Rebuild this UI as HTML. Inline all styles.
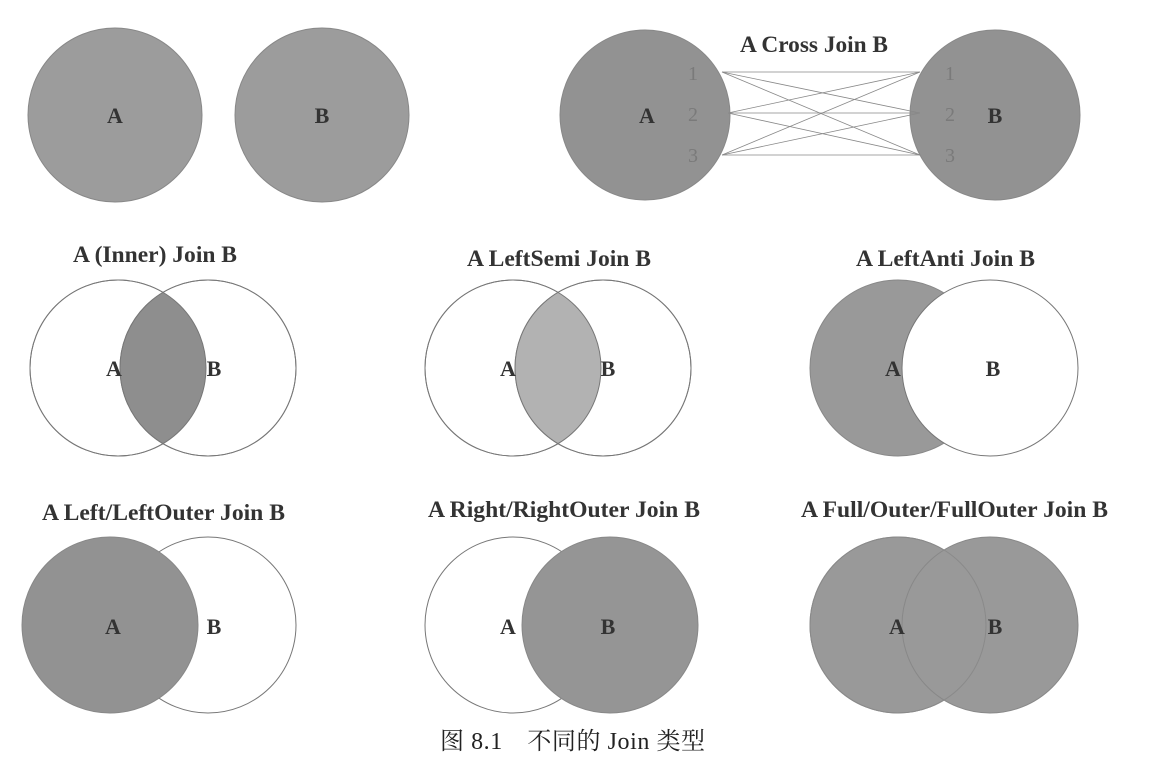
<!DOCTYPE html>
<html><head><meta charset="utf-8"><style>
body{margin:0;background:#fff;width:1155px;height:769px;overflow:hidden}
svg text{font-family:"Liberation Serif","Noto Serif CJK SC",serif}
</style></head><body>
<svg width="1155" height="769">
<g fill="#9c9c9c" stroke="#888" stroke-width="1">
<circle cx="115" cy="115" r="87"/>
<circle cx="322" cy="115" r="87"/>
<circle cx="645" cy="115" r="85" fill="#929292"/>
<circle cx="995" cy="115" r="85" fill="#929292"/>
</g>
<g stroke="#888" stroke-width="0.8" fill="none">
<line x1="722" y1="72" x2="920" y2="72"/><line x1="722" y1="72" x2="920" y2="113"/><line x1="722" y1="72" x2="920" y2="155"/>
<line x1="728" y1="113" x2="920" y2="72"/><line x1="728" y1="113" x2="920" y2="113"/><line x1="728" y1="113" x2="920" y2="155"/>
<line x1="722" y1="155" x2="920" y2="72"/><line x1="722" y1="155" x2="920" y2="113"/><line x1="722" y1="155" x2="920" y2="155"/>
</g>
<g font-size="22" font-weight="bold" fill="#333" text-anchor="middle">
<text x="115" y="123">A</text>
<text x="322" y="123">B</text>
<text x="647" y="123">A</text>
<text x="995" y="123">B</text>
</g>
<g font-size="20" fill="#7a7a7a" text-anchor="middle">
<text x="693" y="80">1</text><text x="693" y="121">2</text><text x="693" y="162">3</text>
<text x="950" y="80">1</text><text x="950" y="121">2</text><text x="950" y="162">3</text>
</g>
<g font-size="23" font-weight="bold" fill="#333" lengthAdjust="spacingAndGlyphs">
<text x="740" y="52" textLength="148" lengthAdjust="spacingAndGlyphs">A Cross Join B</text>
<text x="73" y="262" textLength="164" lengthAdjust="spacingAndGlyphs">A (Inner) Join B</text>
<text x="467" y="266" textLength="184" lengthAdjust="spacingAndGlyphs">A LeftSemi Join B</text>
<text x="856" y="266" textLength="179" lengthAdjust="spacingAndGlyphs">A LeftAnti Join B</text>
<text x="42" y="520" textLength="243" lengthAdjust="spacingAndGlyphs">A Left/LeftOuter Join B</text>
<text x="428" y="517" textLength="272" lengthAdjust="spacingAndGlyphs">A Right/RightOuter Join B</text>
<text x="801" y="517" textLength="307" lengthAdjust="spacingAndGlyphs">A Full/Outer/FullOuter Join B</text>
</g>
<defs>
<clipPath id="ca1"><circle cx="118" cy="368" r="88"/></clipPath>
<clipPath id="ca2"><circle cx="513" cy="368" r="88"/></clipPath>
</defs>
<circle cx="118" cy="368" r="88" fill="#fff" stroke="#777"/>
<circle cx="208" cy="368" r="88" fill="#fff" stroke="#777"/>
<circle cx="208" cy="368" r="88" fill="#8e8e8e" clip-path="url(#ca1)"/>
<circle cx="118" cy="368" r="88" fill="none" stroke="#777"/><circle cx="208" cy="368" r="88" fill="none" stroke="#777"/>
<circle cx="513" cy="368" r="88" fill="#fff" stroke="#777"/>
<circle cx="603" cy="368" r="88" fill="#fff" stroke="#777"/>
<circle cx="603" cy="368" r="88" fill="#b2b2b2" clip-path="url(#ca2)"/>
<circle cx="513" cy="368" r="88" fill="none" stroke="#777"/><circle cx="603" cy="368" r="88" fill="none" stroke="#777"/>
<circle cx="898" cy="368" r="88" fill="#999" stroke="#888"/>
<circle cx="990" cy="368" r="88" fill="#fff" stroke="#777"/>
<circle cx="208" cy="625" r="88" fill="#fff" stroke="#777"/>
<circle cx="110" cy="625" r="88" fill="#929292" stroke="#888"/>
<circle cx="513" cy="625" r="88" fill="#fff" stroke="#777"/>
<circle cx="610" cy="625" r="88" fill="#959595" stroke="#888"/>
<circle cx="898" cy="625" r="88" fill="#999" stroke="#888"/>
<circle cx="990" cy="625" r="88" fill="#999" stroke="#888"/>
<circle cx="898" cy="625" r="88" fill="none" stroke="#8a8a8a"/>
<g font-size="22" font-weight="bold" fill="#333" text-anchor="middle">
<text x="114" y="376">A</text><text x="214" y="376">B</text>
<text x="508" y="376">A</text><text x="608" y="376">B</text>
<text x="893" y="376">A</text><text x="993" y="376">B</text>
<text x="113" y="634">A</text><text x="214" y="634">B</text>
<text x="508" y="634">A</text><text x="608" y="634">B</text>
<text x="897" y="634">A</text><text x="995" y="634">B</text>
</g>
<text x="440" y="749" font-size="24" fill="#222" textLength="265" lengthAdjust="spacing">图 8.1　不同的 Join 类型</text>
</svg>
</body></html>
